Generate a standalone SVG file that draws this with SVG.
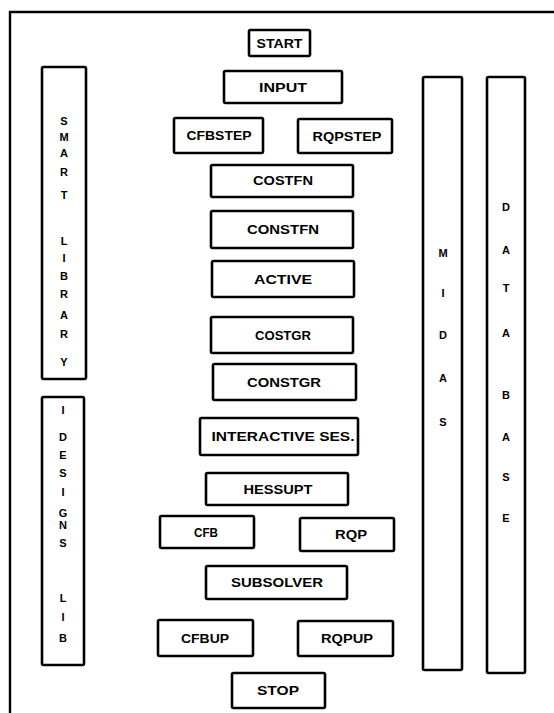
<svg xmlns="http://www.w3.org/2000/svg" width="554" height="713" viewBox="0 0 554 713">
<style>
.box{fill:#fff;stroke:#000;stroke-width:2.6;}
.frame{fill:none;stroke:#000;stroke-width:2.4;}
.t{font-family:"Liberation Sans",Arial,sans-serif;font-weight:bold;font-size:12px;fill:#000;text-anchor:middle;}
.v{font-family:"Liberation Sans",Arial,sans-serif;font-weight:bold;font-size:11px;fill:#000;text-anchor:middle;}
</style>
<rect width="554" height="713" fill="#fff"/>
<g id="frame"><path class="frame" d="M10,713 L10,12 L554,12"/></g>
<g id="connectors"></g>
<g id="start"><rect class="box" x="249" y="30" width="61" height="26" rx="1.5"/><text class="t" x="279.5" y="47.5" textLength="46" lengthAdjust="spacingAndGlyphs">START</text></g>
<g id="input"><rect class="box" x="224" y="71" width="118" height="32" rx="1.5"/><text class="t" x="283" y="91.5" textLength="48" lengthAdjust="spacingAndGlyphs">INPUT</text></g>
<g id="cfbstep"><rect class="box" x="174" y="118" width="89" height="35" rx="1.5"/><text class="t" x="219" y="140" textLength="65" lengthAdjust="spacingAndGlyphs">CFBSTEP</text></g>
<g id="rqpstep"><rect class="box" x="298" y="119" width="94" height="34" rx="1.5"/><text class="t" x="347" y="140.5" textLength="69" lengthAdjust="spacingAndGlyphs">RQPSTEP</text></g>
<g id="costfn"><rect class="box" x="211" y="165" width="142" height="32" rx="1.5"/><text class="t" x="283" y="185" textLength="60" lengthAdjust="spacingAndGlyphs">COSTFN</text></g>
<g id="constfn"><rect class="box" x="211" y="211" width="142" height="37" rx="1.5"/><text class="t" x="283" y="234" textLength="72" lengthAdjust="spacingAndGlyphs">CONSTFN</text></g>
<g id="active"><rect class="box" x="212" y="261" width="142" height="36" rx="1.5"/><text class="t" x="283" y="283.5" textLength="58" lengthAdjust="spacingAndGlyphs">ACTIVE</text></g>
<g id="costgr"><rect class="box" x="211" y="317" width="142" height="36" rx="1.5"/><text class="t" x="283" y="339.5" textLength="56" lengthAdjust="spacingAndGlyphs">COSTGR</text></g>
<g id="constgr"><rect class="box" x="213" y="364" width="143" height="36" rx="1.5"/><text class="t" x="284" y="386.5" textLength="74" lengthAdjust="spacingAndGlyphs">CONSTGR</text></g>
<g id="interactive"><rect class="box" x="200" y="418" width="158" height="37" rx="1.5"/><text class="t" x="283" y="441" textLength="143" lengthAdjust="spacingAndGlyphs">INTERACTIVE SES.</text></g>
<g id="hessupt"><rect class="box" x="206" y="473" width="142" height="32" rx="1.5"/><text class="t" x="278" y="493.5" textLength="69" lengthAdjust="spacingAndGlyphs">HESSUPT</text></g>
<g id="cfb"><rect class="box" x="160" y="516" width="94" height="32" rx="1.5"/><text class="t" x="206" y="536.5" textLength="24" lengthAdjust="spacingAndGlyphs">CFB</text></g>
<g id="rqp"><rect class="box" x="300" y="518" width="94" height="33" rx="1.5"/><text class="t" x="351" y="539" textLength="32" lengthAdjust="spacingAndGlyphs">RQP</text></g>
<g id="subsolver"><rect class="box" x="206" y="566" width="141" height="33" rx="1.5"/><text class="t" x="277" y="587" textLength="92" lengthAdjust="spacingAndGlyphs">SUBSOLVER</text></g>
<g id="cfbup"><rect class="box" x="158" y="620" width="95" height="36" rx="1.5"/><text class="t" x="205" y="642.5" textLength="48" lengthAdjust="spacingAndGlyphs">CFBUP</text></g>
<g id="rqpup"><rect class="box" x="298" y="621" width="95" height="35" rx="1.5"/><text class="t" x="347" y="643" textLength="52" lengthAdjust="spacingAndGlyphs">RQPUP</text></g>
<g id="stop"><rect class="box" x="232" y="673" width="93" height="35" rx="1.5"/><text class="t" x="278" y="695" textLength="42" lengthAdjust="spacingAndGlyphs">STOP</text></g>
<g id="smart-library"><rect class="box" x="42" y="67" width="44" height="312" rx="1.5"/>
<text class="v" x="64" y="125">S</text><text class="v" x="64" y="141">M</text><text class="v" x="64" y="157">A</text><text class="v" x="64" y="176">R</text><text class="v" x="64" y="199">T</text>
<text class="v" x="64" y="245">L</text><text class="v" x="64" y="262">I</text><text class="v" x="64" y="280">B</text><text class="v" x="64" y="298">R</text><text class="v" x="64" y="319">A</text><text class="v" x="64" y="338">R</text><text class="v" x="64" y="366">Y</text></g>
<g id="idesigns-lib"><rect class="box" x="42" y="397" width="42" height="268" rx="1.5"/>
<text class="v" x="63" y="414">I</text><text class="v" x="63" y="441">D</text><text class="v" x="63" y="459">E</text><text class="v" x="63" y="477">S</text><text class="v" x="63" y="496">I</text><text class="v" x="63" y="517">G</text><text class="v" x="63" y="529">N</text><text class="v" x="63" y="547">S</text>
<text class="v" x="63" y="602">L</text><text class="v" x="63" y="621">I</text><text class="v" x="63" y="642">B</text></g>
<g id="midas"><rect class="box" x="423" y="77" width="39" height="593" rx="1.5"/>
<text class="v" x="443" y="257">M</text><text class="v" x="443" y="297">I</text><text class="v" x="443" y="339">D</text><text class="v" x="443" y="382">A</text><text class="v" x="443" y="426">S</text></g>
<g id="database"><rect class="box" x="487" y="77" width="38" height="596" rx="1.5"/>
<text class="v" x="506" y="211">D</text><text class="v" x="506" y="254">A</text><text class="v" x="506" y="292">T</text><text class="v" x="506" y="337">A</text>
<text class="v" x="506" y="399">B</text><text class="v" x="506" y="441">A</text><text class="v" x="506" y="481">S</text><text class="v" x="506" y="522">E</text></g>
</svg>
